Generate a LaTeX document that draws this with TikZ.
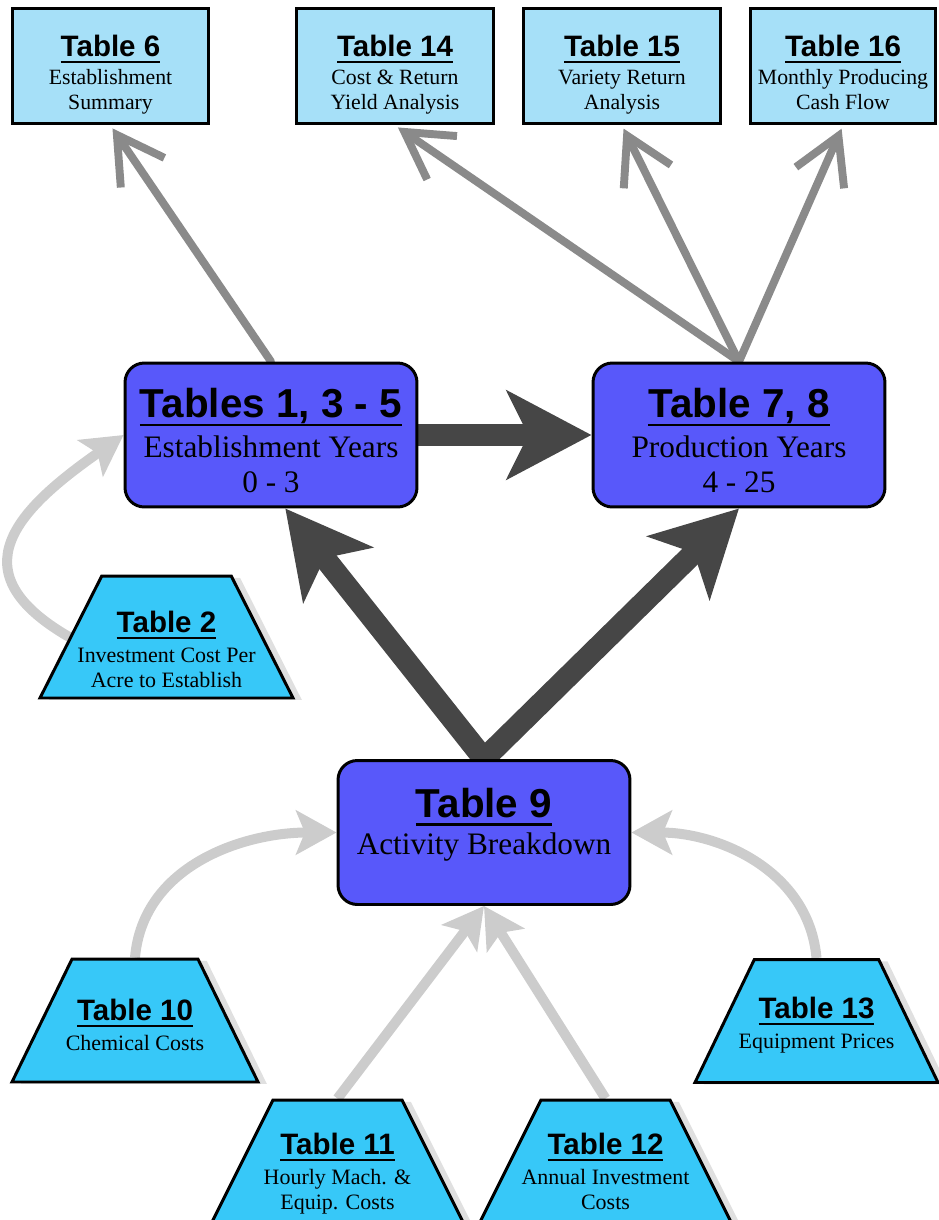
\documentclass[tikz,border=0pt]{standalone}
\usepackage{fontspec}
\setmainfont{Liberation Serif}
\setsansfont{Liberation Sans}
\usetikzlibrary{arrows.meta,shapes.geometric,shadows,backgrounds}

\definecolor{topblue}{RGB}{166,224,248}
\definecolor{midblue}{RGB}{88,88,250}
\definecolor{trapblue}{RGB}{55,200,248}
\definecolor{lgray}{RGB}{204,204,204}
\definecolor{mgray}{RGB}{138,138,138}
\definecolor{dgray}{RGB}{70,70,70}

\newcommand{\ttl}[2][16.8]{{\fontsize{#1}{#1}\selectfont\sffamily\bfseries\setbox0\hbox{#2}\rlap{\rule[-0.22em]{\wd0}{0.07em}}\box0}}
\newcommand{\hi}[1]{\rule{0pt}{#1}}
\newcommand{\lo}[1]{\rule[-#1]{0pt}{#1}}

\tikzset{
  topbox/.style={draw=black, line width=1.7pt, fill=topblue, minimum width=3.94cm, minimum height=2.32cm, align=center, font=\fontsize{12.4}{14}\selectfont, inner sep=0pt},
  midbox/.style={draw=black, line width=1.7pt, fill=midblue, rounded corners=11pt, minimum width=5.84cm, minimum height=2.88cm, align=center, font=\fontsize{17.8}{20}\selectfont, inner sep=0pt},
  trapbox/.style={draw=black, line width=1.7pt, fill=trapblue, trapezium, trapezium angle=64.5, trapezium stretches=true, minimum width=4.92cm, minimum height=2.46cm, inner sep=1pt, drop shadow={shadow xshift=5pt, shadow yshift=-1pt, opacity=0.12, fill=black}},
  traptext/.style={align=center, font=\fontsize{12.5}{14}\selectfont, inner sep=0pt},
  lite/.style={draw=lgray, line width=5.7pt, -{Stealth[length=23pt,width=25pt,inset=5pt]}},
  outarrow/.style={draw=mgray, line width=4.5pt, line cap=round, -{Straight Barb[length=26pt,width=30pt]}, shorten >=2pt},
  mainarrow/.style={draw=dgray, line width=12.5pt, -{Stealth[length=48pt,width=50pt,inset=12pt]}}
}

\begin{document}
\begin{tikzpicture}[x=0.02cm, y=0.02cm]
    \useasboundingbox (0,0) rectangle (938,-1220);

    \node[topbox] (t6) at (110.5,-66) {\hi{22pt}\ttl{Table 6}\\[2pt]Establishment\\Summary};
    \node[topbox] (t14) at (395,-66) {\hi{22pt}\ttl{Table 14}\\[2pt]Cost \& Return\\Yield Analysis};
    \node[topbox, minimum width=3.96cm] (t15) at (622,-66) {\hi{22pt}\ttl{Table 15}\\[2pt]Variety Return\\Analysis\lo{2.7pt}};
    \node[topbox, minimum width=3.7cm] (t16) at (843,-66) {\hi{22pt}\ttl{Table 16}\\[2pt]Monthly Producing\\Cash Flow\lo{2.7pt}};

    \node[midbox] (t135) at (271,-435) {\hi{23pt}\ttl[23]{Tables 1, 3 - 5}\\[2.7pt]Establishment Years\\0 - 3};
    \node[midbox] (t78) at (739,-435) {\hi{23pt}\ttl[23]{Table 7, 8}\\[2.7pt]Production Years\\4 - 25};
    \node[midbox] (t9) at (484,-832.5) {\ttl[23]{Table 9}\\[1.3pt]Activity Breakdown\lo{13pt}};

    \node[trapbox, minimum width=5.06cm, minimum height=2.44cm] (t2) at (166.5,-637) {};
    \node[trapbox] (t10) at (135,-1020.5) {};
    \node[trapbox, minimum width=4.86cm] (t13) at (816.5,-1021) {};
    \node[trapbox, minimum width=5.04cm] (t11) at (337.5,-1161.5) {};
    \node[trapbox, minimum width=5.04cm] (t12) at (605.5,-1161.5) {};

    \node[traptext] (t2txt) at ([yshift=-7pt]t2.center) {\ttl{Table 2}\\[3pt]Investment Cost Per\\Acre to Establish};
    \node[traptext] (t10txt) at ([yshift=-2.5pt]t10.center) {\ttl{Table 10}\\[3pt]Chemical Costs};
    \node[traptext] (t13txt) at ([yshift=-2.5pt]t13.center) {\ttl{Table 13}\\[3pt]Equipment Prices};
    \node[traptext] (t11txt) at ([yshift=-7pt]t11.center) {\ttl{Table 11}\\[3pt]Hourly Mach. \&\\Equip. Costs};
    \node[traptext] (t12txt) at ([yshift=-7pt]t12.center) {\ttl{Table 12}\\[3pt]Annual Investment\\Costs\lo{2.7pt}};

    \begin{scope}[on background layer]
        \draw[lite] (t2.left side) to[out=150, in=215, looseness=1.6] (t135.west);
        \draw[lite] (t10.north) to[out=85, in=180] (t9.west);
        \draw[lite] (t13.north) to[out=95, in=0] (t9.east);
        \draw[lite] (t11.north) -- (t9.south);
        \draw[lite] (t12.north) -- (t9.south);

        \draw[mainarrow] (t9.north) -- (t135.-79);
        \draw[mainarrow] (t9.north) -- (t78.south);
        \draw[mainarrow] (t135.east) -- (t78.west);

        \draw[outarrow] (t135.north) -- (t6.south);
        \draw[outarrow] (t78.north) -- (t14.south);
        \draw[outarrow] (t78.north) -- (t15.south);
        \draw[outarrow] (t78.north) -- (t16.south);
    \end{scope}
\end{tikzpicture}
\end{document}
